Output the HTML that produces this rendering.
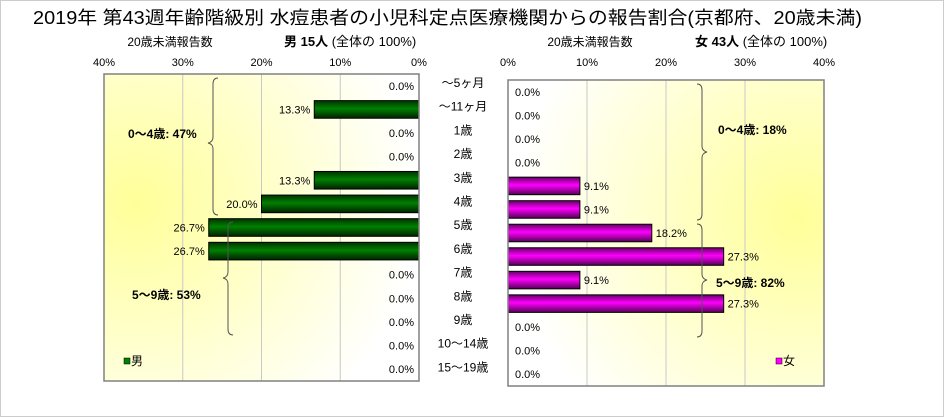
<!DOCTYPE html>
<html><head><meta charset="utf-8"><style>
body{margin:0;background:#fff;}
svg{display:block;font-family:"Liberation Sans","Noto Sans CJK JP",sans-serif;}
</style></head><body>
<svg id="chart" width="944" height="417" viewBox="0 0 944 417">
<defs>
<radialGradient id="bgL" cx="0.1" cy="0.42" r="0.9"><stop offset="0" stop-color="#ffff99"/><stop offset="1" stop-color="#ffffff"/></radialGradient>
<radialGradient id="bgR" cx="0.92" cy="0.45" r="0.9"><stop offset="0" stop-color="#ffff99"/><stop offset="1" stop-color="#ffffff"/></radialGradient>
<linearGradient id="gG" x1="0" y1="0" x2="0" y2="1"><stop offset="0" stop-color="#003300"/><stop offset="0.45" stop-color="#008000"/><stop offset="1" stop-color="#002200"/></linearGradient>
<linearGradient id="gM" x1="0" y1="0" x2="0" y2="1"><stop offset="0" stop-color="#660066"/><stop offset="0.45" stop-color="#ff00ff"/><stop offset="1" stop-color="#550055"/></linearGradient>
</defs>
<rect x="0.5" y="0.5" width="943" height="416" fill="#fff" stroke="#ccc"/>
<text x="33" y="24" font-size="18" textLength="829" lengthAdjust="spacingAndGlyphs">2019年 第43週年齢階級別 水痘患者の小児科定点医療機関からの報告割合(京都府、20歳未満)</text>
<text x="170" y="46" font-size="12" text-anchor="middle">20歳未満報告数</text>
<text x="284" y="46" font-size="13"><tspan font-weight="bold">男 15人</tspan> (全体の 100%)</text>
<text x="590" y="46" font-size="12" text-anchor="middle">20歳未満報告数</text>
<text x="695" y="46" font-size="13"><tspan font-weight="bold">女 43人</tspan> (全体の 100%)</text>
<g id="left"></g><g id="right"></g><g id="cats"></g>
<path d="M218,78 q-5,0 -5,6 v53 q0,5 -5,6 q5,1 5,6 v60 q0,6 5,6" fill="none" stroke="#555"/>
<text x="128" y="138" font-size="12" font-weight="bold">0〜4歳: 47%</text>
<path d="M233,222 q-5,0 -5,6 v44 q0,5 -5,6 q5,1 5,6 v45 q0,6 5,6" fill="none" stroke="#555"/>
<text x="132" y="299" font-size="12" font-weight="bold">5〜9歳: 53%</text>
<path d="M697,84 q5,0 5,6 v56 q0,5 5,6 q-5,1 -5,6 v56 q0,6 -5,6" fill="none" stroke="#555"/>
<text x="718" y="134" font-size="12" font-weight="bold">0〜4歳: 18%</text>
<path d="M697,224 q5,0 5,6 v44 q0,5 5,6 q-5,1 -5,6 v45 q0,6 -5,6" fill="none" stroke="#555"/>
<text x="716" y="287" font-size="12" font-weight="bold">5〜9歳: 82%</text>
<rect x="124" y="358" width="6" height="6" fill="#008000" stroke="#000" stroke-width="0.5"/>
<text x="131" y="365" font-size="12">男</text>
<rect x="776" y="358" width="6" height="6" fill="#ff00ff" stroke="#000" stroke-width="0.5"/>
<text x="783" y="365" font-size="12">女</text>
</svg>
<script>
const categories=["〜5ヶ月","〜11ヶ月","1歳","2歳","3歳","4歳","5歳","6歳","7歳","8歳","9歳","10〜14歳","15〜19歳"];
const maleValues=[0,13.3,0,0,13.3,20.0,26.7,26.7,0,0,0,0,0];
const femaleValues=[0,0,0,0,9.1,9.1,18.2,27.3,9.1,27.3,0,0,0];
const tickValues=[0,10,20,30,40];
const tickLabels=["0%","10%","20%","30%","40%"];
const NS="http://www.w3.org/2000/svg";
function mk(p,t,a,txt){const e=document.createElementNS(NS,t);for(const k in a)e.setAttribute(k,a[k]);if(txt!=null)e.textContent=txt;p.appendChild(e);return e;}
function drawPanel(g,side,vals,top,bottom,x0,x1,fill,bg,nm){
  const xs=v=>x0+(x1-x0)*v/40;
  const rowH=(bottom-top)/categories.length;
  const bgR=mk(g,'rect',{x:Math.min(x0,x1),y:top,width:Math.abs(x1-x0),height:bottom-top,fill:bg});
  
  
  tickValues.forEach((t,i)=>{
    if(t>0&&t<40){const l=mk(g,'line',{x1:xs(t),x2:xs(t),y1:top,y2:bottom,stroke:'#c8c8c8'});
      
      }
    const tl=mk(g,'text',{x:xs(t),y:66,'font-size':11,'text-anchor':'middle'},tickLabels[i]);
    
    
  });
  vals.forEach((v,i)=>{
    const y=top+rowH*i;
    const cy=y+rowH/2+4;
    if(v>0){
      const r=mk(g,'rect',{x:Math.min(xs(0),xs(v)),y:y+3,width:Math.abs(xs(v)-xs(0)),height:rowH-6,fill:fill,stroke:'#000','stroke-width':1});
      
      
    }
    const lx=side<0?(v>0?xs(v)-4:x0-5):(v>0?xs(v)+4:x0+7);
    const t=mk(g,'text',{x:lx,y:cy,'font-size':11,'text-anchor':side<0?'end':'start'},v.toFixed(1)+'%');
    
    
  });
  const b=mk(g,'rect',{x:Math.min(x0,x1),y:top,width:Math.abs(x1-x0),height:bottom-top,fill:'none',stroke:'#808080','stroke-width':1.5});
  
  
}
drawPanel(document.getElementById('left'),-1,maleValues,74,381,419,104,'url(#gG)','url(#bgL)','male');
drawPanel(document.getElementById('right'),1,femaleValues,80,386,508,824,'url(#gM)','url(#bgR)','female');
const cg=document.getElementById('cats');
categories.forEach((c,i)=>{
  const t=mk(cg,'text',{x:463,y:77+23.7*i+10,'font-size':12,'text-anchor':'middle'},c);
  
  
});
</script>
</body></html>
